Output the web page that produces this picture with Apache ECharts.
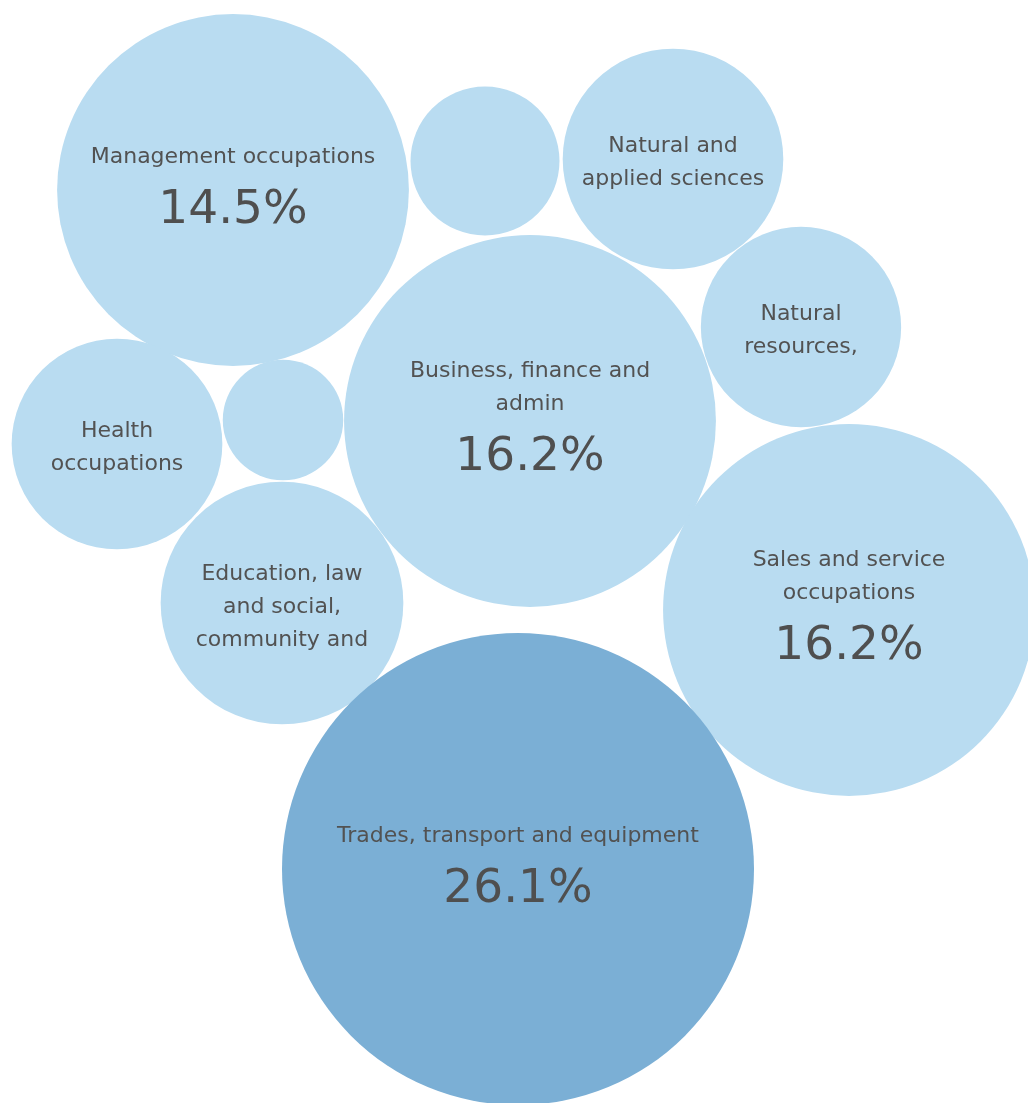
<!DOCTYPE html>
<html>
<head>
<meta charset="utf-8">
<style>
  html, body { margin: 0; padding: 0; background: #fff; }
  #main { width: 1028px; height: 1103px; }
</style>
<script src="https://cdn.jsdelivr.net/npm/echarts@6/dist/echarts.min.js"></script>
</head>
<body>
<div id="main"></div>
<script>
// occupation groups and their share of the total (%)
const categories = [
  'Management occupations',
  'Manufacturing and utilities',
  'Natural and applied sciences',
  'Natural resources, agriculture',
  'Business, finance and admin',
  'Health occupations',
  'Art, culture, recreation and sport',
  'Education, law and social, community and government',
  'Sales and service occupations',
  'Trades, transport and equipment'
];
const shares = [14.5, 2.6, 5.7, 4.7, 16.2, 5.2, 1.7, 6.9, 16.2, 26.1];
// label text as it fits inside the bubble (truncated like the original)
const labelText = [
  'Management occupations',
  '',
  'Natural and\napplied sciences',
  'Natural\nresources,',
  'Business, finance and\nadmin',
  'Health\noccupations',
  '',
  'Education, law\nand social,\ncommunity and',
  'Sales and service\noccupations',
  'Trades, transport and equipment'
];
// packed layout centres (layout units, origin top-left)
const packX = [233, 485, 673, 801, 530, 117, 283, 282, 849, 518];
const packY = [190, 161, 159, 327, 421, 444, 420, 603, 610, 869];

const maxR = 236;          // radius of the largest bubble in px
const maxShare = Math.max(...shares);
const light = '#b9dcf1';
const dark = '#7bafd5';

const data = categories.map((c, i) => ({
  name: c,
  value: [packX[i], packY[i], shares[i]],
  itemStyle: { color: shares[i] === maxShare ? dark : light, opacity: 1 }
}));

const chart = echarts.init(document.getElementById('main'));
chart.setOption({
  animation: false,
  grid: { left: 0, right: 0, top: 0, bottom: 0 },
  xAxis: { type: 'value', min: 0, max: 1028, show: false },
  yAxis: { type: 'value', min: 0, max: 1103, inverse: true, show: false },
  series: [{
    type: 'scatter',
    data: data,
    symbol: 'circle',
    symbolSize: v => 2 * maxR * Math.sqrt(v[2] / maxShare),
    label: {
      show: true,
      position: 'inside',
      align: 'center',
      verticalAlign: 'middle',
      offset: [0, 4],
      formatter: p => {
        const i = p.dataIndex;
        const t = labelText[i];
        if (!t) return '';
        const name = t.split('\n').map(s => '{n|' + s + '}').join('\n');
        if (shares[i] > 10) return name + '\n{p|' + shares[i].toFixed(1) + '%}';
        return name;
      },
      rich: {
        n: { fontFamily: 'DejaVu Sans', fontSize: 22, lineHeight: 33, color: '#525252' },
        p: { fontFamily: 'DejaVu Sans', fontSize: 47, lineHeight: 74, color: '#4f4f4f' }
      }
    },
    emphasis: { disabled: true }
  }]
});
</script>
</body>
</html>
